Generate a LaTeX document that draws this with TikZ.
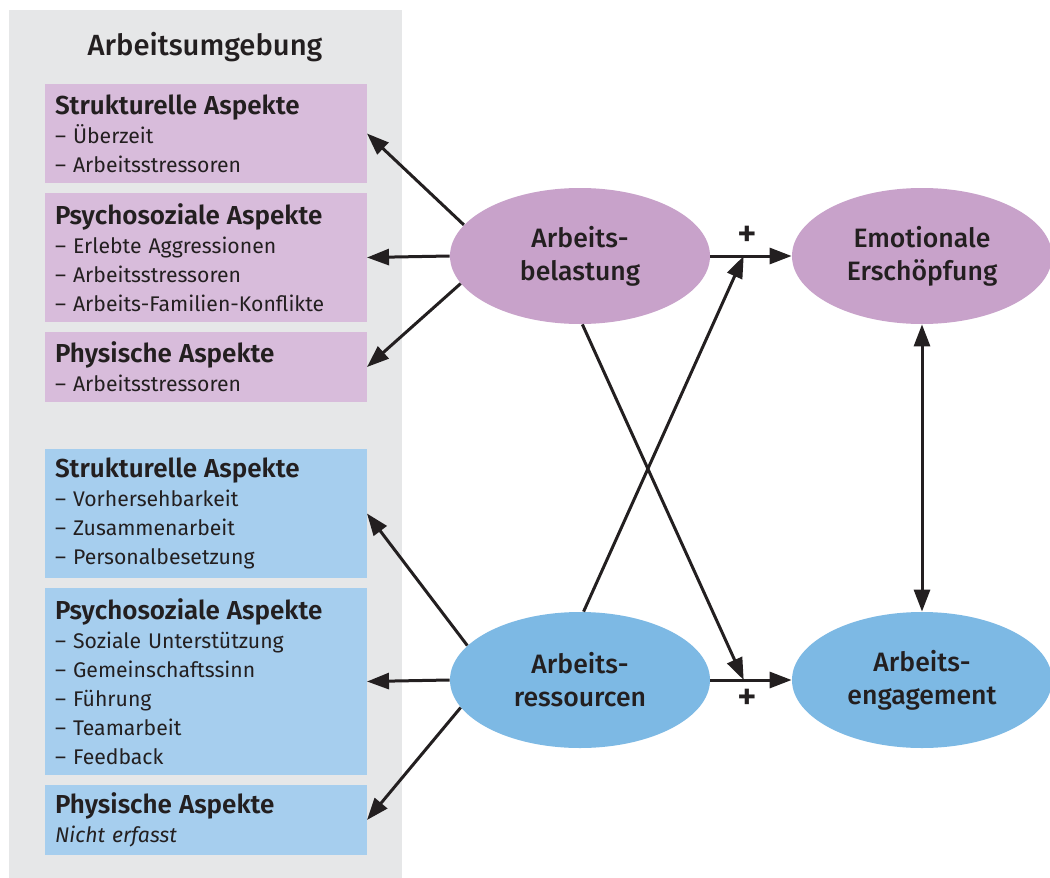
\documentclass[tikz,border=0pt]{standalone}
\usepackage{fontspec}
\setmainfont{Fira Sans}
\newfontfamily\medfont{Fira Sans Medium}
\newfontfamily\semifont{Fira Sans SemiBold}
\usetikzlibrary{positioning, arrows.meta, shapes.geometric}
\definecolor{envgray}{HTML}{E6E7E8}
\definecolor{loadbox}{HTML}{D8BCDB}
\definecolor{loadell}{HTML}{C8A2CA}
\definecolor{resbox}{HTML}{A6CEEE}
\definecolor{resell}{HTML}{7DB9E4}
\definecolor{ink}{HTML}{231F20}
\newcommand{\aspecthead}[1]{{\semifont\fontsize{13}{14.5}\selectfont #1}}

\begin{document}
\begin{tikzpicture}[
    x=0.5pt, y=-0.5pt,
    >={Triangle[length=11pt, width=8pt]},
    node distance=5pt,
    aspect/.style={anchor=north west, text width=151pt, inner xsep=5pt,
                   inner ysep=0pt, outer sep=0pt, minimum height=#1, align=left,
                   font=\fontsize{10.6}{14.5}\selectfont, text=ink},
    ell/.style={ellipse, minimum width=130pt, minimum height=68pt,
                inner sep=0pt, align=center, text=ink,
                font=\medfont\fontsize{13.3}{16.5}\selectfont},
    arr/.style={->, line width=1.5pt, draw=ink},
    plus/.style={font=\medfont\fontsize{19}{19}\selectfont, text=ink, inner sep=0pt},
]
\useasboundingbox (0,0) rectangle (1050,878);
\fill[white] (0,0) rectangle (1050,878);
\fill[envgray] (9,10) rectangle (402,878);
\node[font=\medfont\fontsize{14.6}{17}\selectfont, text=ink] (env) at (205,47) {Arbeitsumgebung};

% Arbeitsbelastung side
\node[aspect=49.5pt, fill=loadbox] (ls) at (45,84)
    {\aspecthead{Strukturelle Aspekte}\\– Überzeit\\– Arbeitsstressoren};
\node[aspect=64.5pt, fill=loadbox, below=of ls] (lp)
    {\aspecthead{Psychosoziale Aspekte}\\– Erlebte Aggressionen\\– Arbeitsstressoren\\– Arbeits-Familien-Konflikte};
\node[aspect=35pt, fill=loadbox, below=of lp] (lk)
    {\aspecthead{Physische Aspekte}\\– Arbeitsstressoren};

% Arbeitsressourcen side
\node[aspect=64.5pt, fill=resbox, below=23.5pt of lk] (rs)
    {\aspecthead{Strukturelle Aspekte}\\– Vorhersehbarkeit\\– Zusammenarbeit\\– Personalbesetzung};
\node[aspect=93.5pt, fill=resbox, below=of rs] (rp)
    {\aspecthead{Psychosoziale Aspekte}\\– Soziale Unterstützung\\– Gemeinschaftssinn\\– Führung\\– Teamarbeit\\– Feedback};
\node[aspect=35pt, fill=resbox, below=of rp] (rk)
    {\aspecthead{Physische Aspekte}\\\textit{Nicht erfasst}};

\node[ell, fill=loadell] (load) at (580,256) {Arbeits-\\belastung};
\node[ell, fill=loadell] (exh) at (922,256) {Emotionale\\Erschöpfung};
\node[ell, fill=resell] (res) at (580,680) {Arbeits-\\ressourcen};
\node[ell, fill=resell] (eng) at (922,680) {Arbeits-\\engagement};

\draw[arr] (load.165) -- (ls.east);
\draw[arr] (load.west) -- (lp.east);
\draw[arr] (load.193) -- (lk.east);
\draw[arr] (res.163) -- (rs.east);
\draw[arr] (res.west) -- (rp.east);
\draw[arr] (res.193) -- (rk.east);

\draw[arr] (load.east) -- node[plus, pos=0.45, above=4pt] (pl) {+}
    coordinate[pos=0.41] (jl) (exh.west);
\draw[arr] (res.east) -- node[plus, pos=0.45, below=4pt] (pr) {+}
    coordinate[pos=0.41] (jr) (eng.west);
\draw[arr] (load.272) -- (jr);
\draw[arr] (res.87) -- (jl);
\draw[arr, <->] (exh.south) -- (eng.north);
\end{tikzpicture}
\end{document}
